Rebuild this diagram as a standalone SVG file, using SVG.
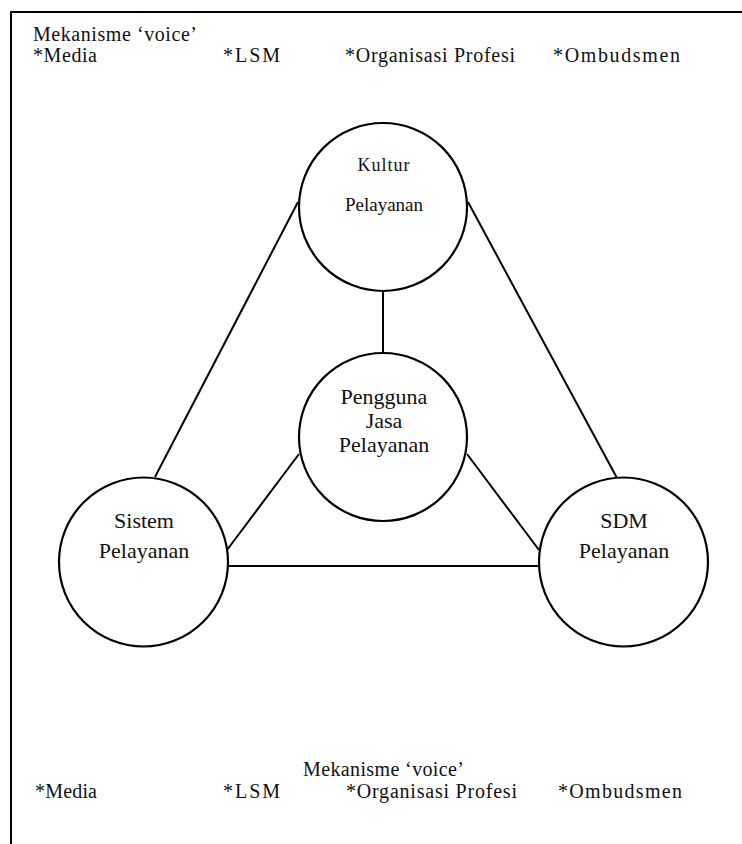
<svg xmlns="http://www.w3.org/2000/svg" width="742" height="844" viewBox="0 0 742 844" font-family="'Liberation Serif', 'Times New Roman', serif">
<style>
  .frame{fill:none;stroke:#000;stroke-width:2}
  .node circle{fill:#fff;stroke:#000;stroke-width:2.2}
  .conn line{stroke:#000;stroke-width:2}
  text{fill:#111;font-family:"Liberation Serif","Times New Roman",serif}
  .hdr text{font-size:20px}
  .lbl{font-size:22px;text-anchor:middle}
  .lbls{font-size:18px;text-anchor:middle}
  .lblm{font-size:19px;text-anchor:middle}
</style>
<rect width="742" height="844" fill="#fff"/>
<path class="frame" d="M11,844 V12 H742"/>
<g id="voice-top" class="hdr">
  <text x="33" y="41" textLength="164" lengthAdjust="spacing">Mekanisme ‘voice’</text>
  <text x="33" y="62" textLength="64" lengthAdjust="spacing">*Media</text>
  <text x="223" y="62" textLength="57" lengthAdjust="spacing">*LSM</text>
  <text x="345" y="62" textLength="170" lengthAdjust="spacing">*Organisasi Profesi</text>
  <text x="553" y="62" textLength="127" lengthAdjust="spacing">*Ombudsmen</text>
</g>
<g id="connectors" class="conn">
  <line x1="383" y1="292" x2="383" y2="353"/>
  <line x1="298" y1="202" x2="155" y2="477"/>
  <line x1="468" y1="202" x2="617" y2="478"/>
  <line x1="299" y1="454" x2="227" y2="550"/>
  <line x1="467" y1="454" x2="539" y2="550"/>
  <line x1="228" y1="566" x2="539" y2="566"/>
</g>
<g id="kultur" class="node">
  <circle cx="383" cy="207" r="84"/>
  <text class="lbls" x="384" y="171" letter-spacing="1">Kultur</text>
  <text class="lblm" x="384" y="211">Pelayanan</text>
</g>
<g id="pengguna" class="node">
  <circle cx="383" cy="437" r="84"/>
  <text class="lbl" x="384" y="404">Pengguna</text>
  <text class="lbl" x="384" y="428">Jasa</text>
  <text class="lbl" x="384" y="452">Pelayanan</text>
</g>
<g id="sistem" class="node">
  <circle cx="143.5" cy="562" r="84.5"/>
  <text class="lbl" x="144" y="528">Sistem</text>
  <text class="lbl" x="144" y="558">Pelayanan</text>
</g>
<g id="sdm" class="node">
  <circle cx="623.5" cy="562" r="84.5"/>
  <text class="lbl" x="624" y="528">SDM</text>
  <text class="lbl" x="624" y="558">Pelayanan</text>
</g>
<g id="voice-bottom" class="hdr">
  <text x="303" y="776" textLength="161" lengthAdjust="spacing">Mekanisme ‘voice’</text>
  <text x="35" y="798" textLength="62" lengthAdjust="spacing">*Media</text>
  <text x="223" y="798" textLength="57" lengthAdjust="spacing">*LSM</text>
  <text x="346" y="798" textLength="171" lengthAdjust="spacing">*Organisasi Profesi</text>
  <text x="558" y="798" textLength="124" lengthAdjust="spacing">*Ombudsmen</text>
</g>
</svg>
